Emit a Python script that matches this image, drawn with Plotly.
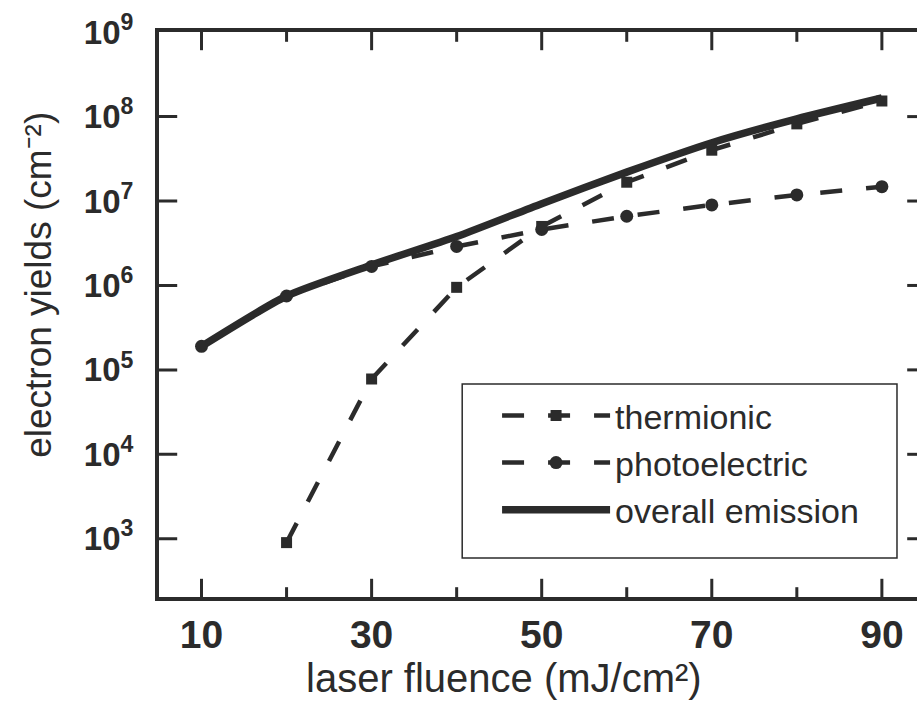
import plotly.graph_objects as go

# ---- data ----
fluence = [10, 20, 30, 40, 50, 60, 70, 80, 90]
thermionic_x = [20, 30, 40, 50, 60, 70, 80, 90]
thermionic = [9.0e2, 7.8e4, 9.5e5, 5.0e6, 1.67e7, 4.0e7, 8.2e7, 1.53e8]
photoelectric = [1.9e5, 7.5e5, 1.68e6, 2.9e6, 4.6e6, 6.6e6, 9.0e6, 1.18e7, 1.48e7]
overall = [1.9e5, 7.5e5, 1.75e6, 3.8e6, 9.3e6, 2.2e7, 4.9e7, 9.4e7, 1.66e8]

x_tick_vals = [10, 30, 50, 70, 90]
x_minor_vals = [20, 40, 60, 80]
y_exps = [3, 4, 5, 6, 7, 8, 9]
y_tick_vals = [10 ** e for e in y_exps]
y_tick_text = ["<b>10<sup>%d</sup></b>" % e for e in y_exps]
x_tick_text = ["<b>%d</b>" % v for v in x_tick_vals]

INK = "#2b2b2b"
FONT = "Liberation Sans, Arial, sans-serif"
X_RANGE = [5, 94.13]
Y_RANGE = [2.31, 9.002]

fig = go.Figure()

fig.add_trace(go.Scatter(
    x=fluence, y=overall, name="overall emission", mode="lines",
    line=dict(color=INK, width=7.5, shape="spline", smoothing=0.6),
    legendrank=3,
))
fig.add_trace(go.Scatter(
    x=fluence, y=photoelectric, name="photoelectric", mode="lines+markers",
    line=dict(color=INK, width=4.5, dash="22px,24px"),
    marker=dict(symbol="circle", size=13, color=INK),
    legendrank=2,
))
fig.add_trace(go.Scatter(
    x=thermionic_x, y=thermionic, name="thermionic", mode="lines+markers",
    line=dict(color=INK, width=4.5, dash="22px,24px"),
    marker=dict(symbol="square", size=11, color=INK),
    legendrank=1,
))

# ---- inward tick marks: line markers at the tick values on the frame edges,
#      the outer half is clipped away by the plot area ----
y_lo, y_hi = 10 ** Y_RANGE[0], 10 ** Y_RANGE[1]
y_major = y_tick_vals[:-1]
tick_sets = [
    (x_tick_vals, [y_lo] * len(x_tick_vals), "line-ns", 26),
    (x_tick_vals, [y_hi] * len(x_tick_vals), "line-ns", 26),
    (x_minor_vals, [y_lo] * len(x_minor_vals), "line-ns", 14),
    (x_minor_vals, [y_hi] * len(x_minor_vals), "line-ns", 14),
    ([X_RANGE[0]] * len(y_major), y_major, "line-ew", 26),
    ([X_RANGE[1]] * len(y_major), y_major, "line-ew", 14),
]
for tx, ty, sym, size in tick_sets:
    fig.add_trace(go.Scatter(
        x=tx, y=ty, mode="markers", showlegend=False, hoverinfo="skip",
        cliponaxis=True,
        marker=dict(symbol=sym, size=size, color=INK,
                    line=dict(color=INK, width=3)),
    ))

# legend frame
shapes = [dict(type="rect", xref="paper", yref="paper",
               x0=0.400, x1=0.9736, y0=0.069, y1=0.377, layer="above",
               line=dict(color=INK, width=1.5), fillcolor="rgba(0,0,0,0)")]

fig.update_layout(
    width=917, height=720,
    margin=dict(l=159, r=0, t=32, b=123),
    paper_bgcolor="white", plot_bgcolor="white",
    showlegend=True,
    xaxis=dict(
        range=X_RANGE, showgrid=False, zeroline=False,
        showline=True, linewidth=4, linecolor=INK, mirror=True,
        ticks="", tickvals=x_tick_vals, ticktext=x_tick_text,
        tickfont=dict(family=FONT, size=39, color=INK),
    ),
    yaxis=dict(
        type="log", range=Y_RANGE, showgrid=False, zeroline=False,
        showline=True, linewidth=4, linecolor=INK, mirror=False,
        ticks="", tickvals=y_tick_vals, ticktext=y_tick_text,
        tickfont=dict(family=FONT, size=33, color=INK),
        ticklabelstandoff=15,
    ),
    shapes=shapes,
    legend=dict(
        x=0.446, y=0.372, xanchor="left", yanchor="top",
        font=dict(family=FONT, size=34, color=INK),
        borderwidth=0, bgcolor="rgba(0,0,0,0)",
        itemwidth=108,
    ),
    annotations=[
        dict(text="laser fluence (mJ/cm²)", xref="paper", yref="paper",
             x=0.455, y=-0.143, xanchor="center", yanchor="middle",
             showarrow=False, font=dict(family=FONT, size=40, color=INK)),
        dict(text="electron yields (cm⁻²)", xref="paper", yref="paper",
             x=-0.160, y=0.552, xanchor="center", yanchor="middle",
             textangle=-90, showarrow=False,
             font=dict(family=FONT, size=37, color=INK)),
    ],
)

fig.write_html("out.html")
